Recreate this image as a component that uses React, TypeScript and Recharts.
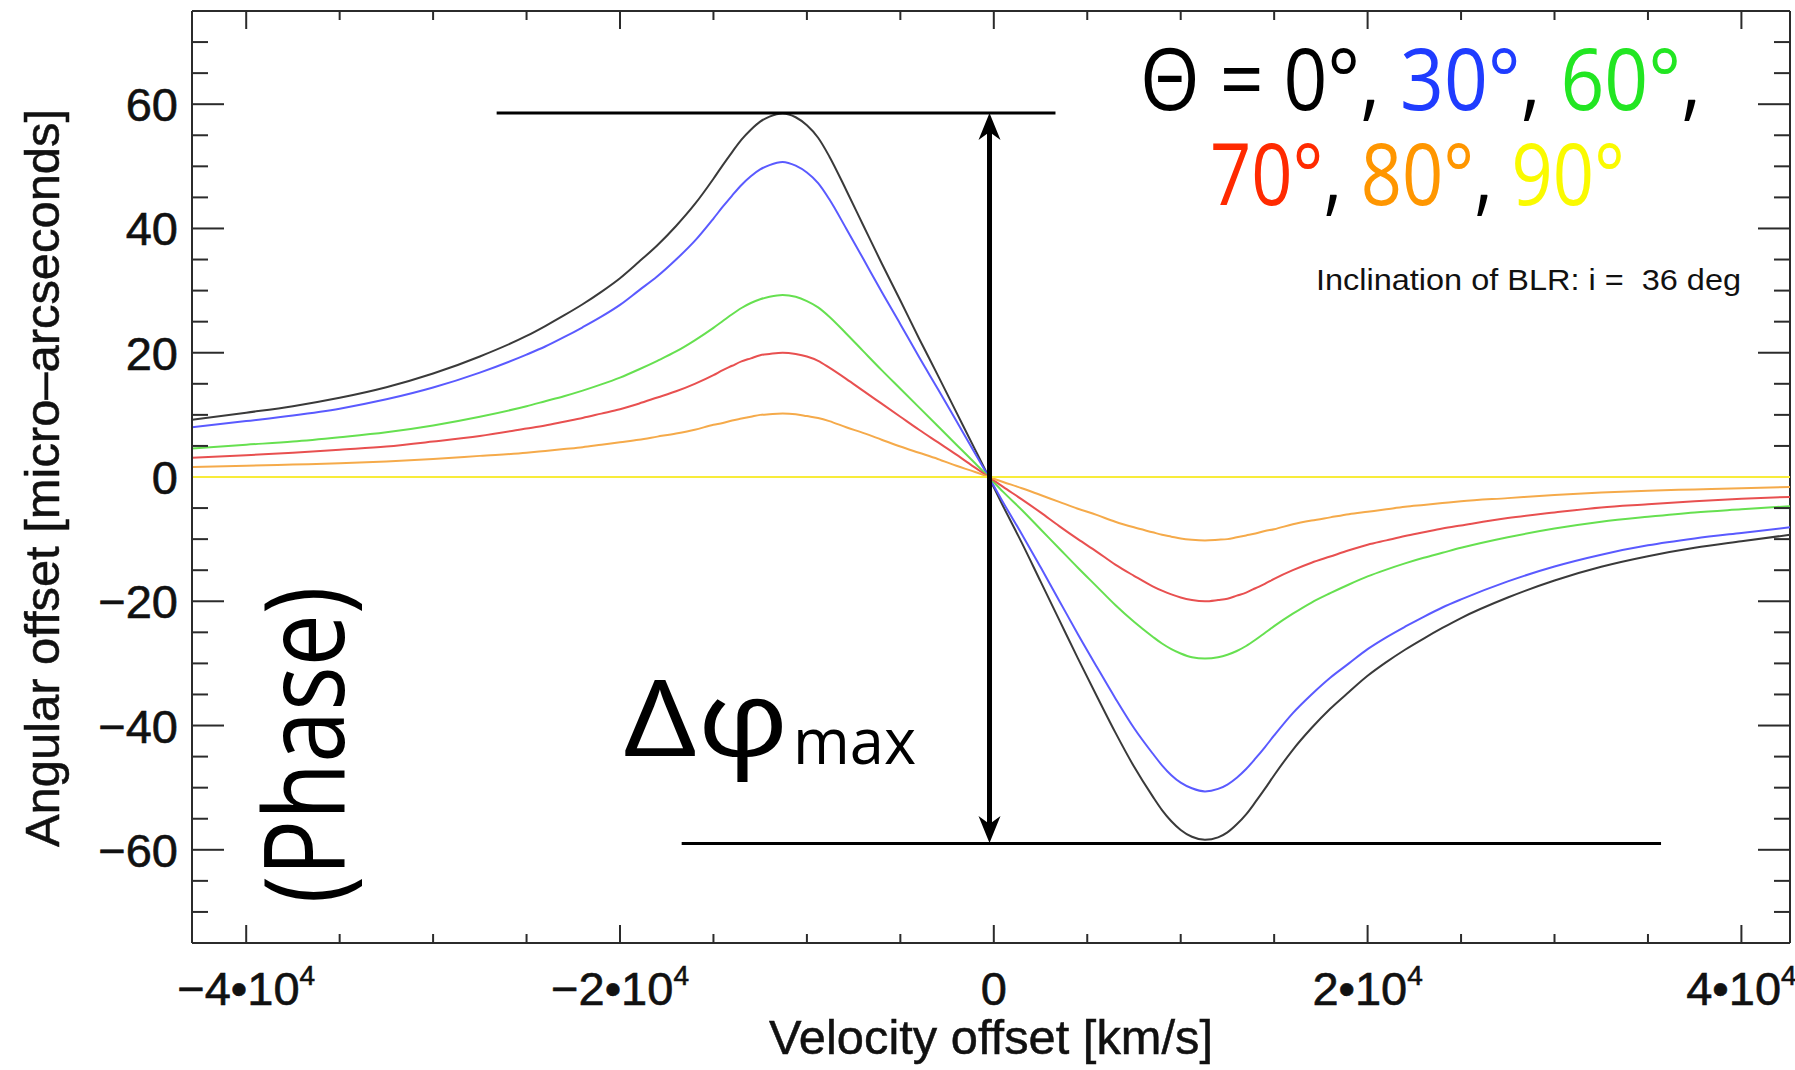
import { Line, LineChart, ReferenceLine, XAxis, YAxis } from "recharts";

// velocity offset [km/s]
const velocity = [
  -42900, -40000, -37500, -35000, -32500, -30000, -27500, -25000, -24000, -23000, -22000, -21000, -20000, -19000,
  -18000, -17000, -16000, -15000, -14500, -14000, -13500, -13000, -12500, -12000, -11300, -10600, -10000, -9400, -8800,
  -7900, -7000, -6000, -5000, -4000, -3000, -2000, -1000, -270, 500, 1500, 2500, 3500, 4500, 5500, 6500, 7500, 8500,
  9000, 9500, 10000, 10600, 11300, 12000, 12500, 13000, 13500, 14000, 14500, 15000, 16000, 17000, 18000, 19000, 20000,
  21000, 22000, 23000, 24000, 25000, 27500, 30000, 32500, 35000, 37500, 40000, 42600,
];

// angular offset [micro-arcseconds], one list per Theta
const theta0 = [
  9.2, 10.35, 11.4, 12.75, 14.45, 16.65, 19.4, 22.7, 24.3, 26.0, 27.8, 29.8, 32.0, 34.6, 37.3, 40.4, 43.9, 48.0, 50.2,
  52.3, 54.3, 55.9, 57.2, 58.0, 58.5, 57.9, 56.6, 54.6, 51.6, 46.2, 40.6, 34.4, 28.4, 22.3, 16.4, 10.4, 4.4, 0,
  -4.7, -10.6, -16.8, -23.0, -29.2, -35.2, -41.1, -46.6, -51.4, -53.6, -55.4, -56.8, -57.9, -58.4, -58.0, -57.2, -55.9,
  -54.3, -52.3, -50.2, -48.0, -43.9, -40.4, -37.3, -34.6, -32.0, -29.8, -27.8, -26.0, -24.3, -22.7, -19.4, -16.65,
  -14.45, -12.75, -11.4, -10.35, -9.3,
];
const theta30 = [
  8.0, 9.0, 9.9, 11.0, 12.5, 14.4, 16.8, 19.7, 21.0, 22.5, 24.1, 25.8, 27.7, 30.0, 32.3, 35.0, 38.0, 41.6, 43.5, 45.3,
  47.0, 48.4, 49.5, 50.2, 50.7, 50.1, 49.0, 47.3, 44.7, 40.0, 35.2, 29.8, 24.6, 19.3, 14.2, 9.0, 3.8, 0,
  -4.1, -9.2, -14.5, -19.9, -25.3, -30.5, -35.6, -40.4, -44.5, -46.4, -48.0, -49.2, -50.1, -50.6, -50.2, -49.5, -48.4,
  -47.0, -45.3, -43.5, -41.6, -38.0, -35.0, -32.3, -30.0, -27.7, -25.8, -24.1, -22.5, -21.0, -19.7, -16.8, -14.4,
  -12.5, -11.0, -9.9, -9.0, -8.1,
];
const theta60 = [
  4.6, 5.2, 5.7, 6.4, 7.2, 8.3, 9.7, 11.4, 12.2, 13.0, 13.9, 14.9, 16.0, 17.3, 18.7, 20.2, 22.0, 24.0, 25.1, 26.2,
  27.2, 28.0, 28.6, 29.0, 29.3, 29.0, 28.3, 27.3, 25.8, 23.1, 20.3, 17.2, 14.2, 11.2, 8.2, 5.2, 2.2, 0,
  -2.4, -5.3, -8.4, -11.5, -14.6, -17.6, -20.6, -23.3, -25.7, -26.8, -27.7, -28.4, -29.0, -29.2, -29.0, -28.6, -28.0,
  -27.2, -26.2, -25.1, -24.0, -22.0, -20.2, -18.7, -17.3, -16.0, -14.9, -13.9, -13.0, -12.2, -11.4, -9.7, -8.3, -7.2,
  -6.4, -5.7, -5.2, -4.7,
];
const theta70 = [
  3.1, 3.5, 3.9, 4.4, 4.9, 5.7, 6.6, 7.8, 8.3, 8.9, 9.5, 10.2, 10.9, 11.8, 12.8, 13.8, 15.0, 16.4, 17.2, 17.9, 18.6,
  19.1, 19.6, 19.8, 20.0, 19.8, 19.4, 18.7, 17.6, 15.8, 13.9, 11.8, 9.7, 7.6, 5.6, 3.6, 1.5, 0,
  -1.6, -3.6, -5.7, -7.9, -10.0, -12.0, -14.1, -15.9, -17.6, -18.3, -18.9, -19.4, -19.8, -20.0, -19.8, -19.6, -19.1,
  -18.6, -17.9, -17.2, -16.4, -15.0, -13.8, -12.8, -11.8, -10.9, -10.2, -9.5, -8.9, -8.3, -7.8, -6.6, -5.7, -4.9,
  -4.4, -3.9, -3.5, -3.2,
];
const theta80 = [
  1.6, 1.8, 2.0, 2.2, 2.5, 2.9, 3.4, 3.9, 4.2, 4.5, 4.8, 5.2, 5.6, 6.0, 6.5, 7.0, 7.6, 8.4, 8.7, 9.1, 9.4, 9.7, 10.0,
  10.1, 10.2, 10.1, 9.8, 9.5, 9.0, 8.0, 7.1, 6.0, 4.9, 3.9, 2.9, 1.8, 0.8, 0,
  -0.8, -1.8, -2.9, -4.0, -5.1, -6.1, -7.2, -8.1, -8.9, -9.3, -9.6, -9.9, -10.1, -10.2, -10.1, -10.0, -9.7, -9.4,
  -9.1, -8.7, -8.4, -7.6, -7.0, -6.5, -6.0, -5.6, -5.2, -4.8, -4.5, -4.2, -3.9, -3.4, -2.9, -2.5, -2.2, -2.0, -1.8,
  -1.6,
];
const theta90 = [
  0, 0, 0, 0, 0, 0, 0, 0, 0, 0, 0, 0, 0, 0, 0, 0, 0, 0, 0, 0, 0, 0, 0, 0, 0, 0, 0, 0, 0, 0, 0, 0, 0, 0, 0, 0, 0, 0,
  0, 0, 0, 0, 0, 0, 0, 0, 0, 0, 0, 0, 0, 0, 0, 0, 0, 0, 0, 0, 0, 0, 0, 0, 0, 0, 0, 0, 0, 0, 0, 0, 0, 0, 0, 0, 0, 0,
];

const velocityDomain = [-42900, 42600];
const offsetDomain = [-75, 75];
const velocityTicks = [
  -40000, -35000, -30000, -25000, -20000, -15000, -10000, -5000, 0, 5000, 10000, 15000, 20000, 25000, 30000, 35000,
  40000,
];
const offsetTicks = [
  -70, -65, -60, -55, -50, -45, -40, -35, -30, -25, -20, -15, -10, -5, 0, 5, 10, 15, 20, 25, 30, 35, 40, 45, 50, 55,
  60, 65, 70,
];

// Delta-phi annotation: [velocity, offset] end points
const peakBar = [[-26600, 58.6], [3300, 58.6]];
const troughBar = [[-16700, -59.0], [35700, -59.0]];
const phiArrow = [[-230, 58.6], [-230, -58.9]];

const chartData = velocity.map((v, i) => ({
  v,
  t0: theta0[i],
  t30: theta30[i],
  t60: theta60[i],
  t70: theta70[i],
  t80: theta80[i],
  t90: theta90[i],
}));

const W = 1795;
const H = 1070;
const PLOT_TOP = 11;
const PLOT_RIGHT = 1790;
const AXIS = "#2b2b2b";
const INK = "#111";
const SANS = "'Liberation Sans', Arial, Helvetica, sans-serif";
const HUMANIST = "'Open Sans', 'Noto Sans', sans-serif";

function VelocityTick({ x, y, payload }: any) {
  const v = payload.value as number;
  const major = v % 20000 === 0;
  const len = major ? 18 : 9;
  return (
    <g>
      <line x1={x} y1={y} x2={x} y2={y - len} stroke={AXIS} strokeWidth={2} />
      <line x1={x} y1={PLOT_TOP} x2={x} y2={PLOT_TOP + len} stroke={AXIS} strokeWidth={2} />
      {major && (
        <text x={x} y={y + 62} textAnchor="middle" fontFamily={SANS} fontSize={47} fill={INK} stroke={INK} strokeWidth={0.6}>
          {v === 0 ? (
            "0"
          ) : (
            <>
              <tspan>{`${v < 0 ? "\u2212" : ""}${Math.abs(v) / 10000}\u202210`}</tspan>
              <tspan dy={-20} fontSize={28}>
                4
              </tspan>
            </>
          )}
        </text>
      )}
    </g>
  );
}

function OffsetTick({ x, y, payload }: any) {
  const v = payload.value as number;
  const major = v % 20 === 0;
  const len = major ? 32 : 16;
  // the flat Theta = 90 deg curve runs over the zero ticks in the original plot
  const showMarks = v !== 0;
  return (
    <g>
      {showMarks && <line x1={x} y1={y} x2={x + len} y2={y} stroke={AXIS} strokeWidth={2} />}
      {showMarks && <line x1={PLOT_RIGHT} y1={y} x2={PLOT_RIGHT - len} y2={y} stroke={AXIS} strokeWidth={2} />}
      {major && (
        <text x={x - 14} y={y + 17} textAnchor="end" fontFamily={SANS} fontSize={47} fill={INK} stroke={INK} strokeWidth={0.6}>
          {v < 0 ? `\u2212${-v}` : `${v}`}
        </text>
      )}
    </g>
  );
}

function DoubleArrow({ x1, y1, x2, y2 }: any) {
  const top = Math.min(y1, y2);
  const bottom = Math.max(y1, y2);
  const x = (x1 + x2) / 2;
  return (
    <g>
      <line x1={x} y1={top + 18} x2={x} y2={bottom - 18} stroke="#000" strokeWidth={5} />
      <path d={`M${x},${top} L${x + 11},${top + 27} L${x},${top + 19} L${x - 11},${top + 27} Z`} fill="#000" />
      <path
        d={`M${x},${bottom} L${x + 11},${bottom - 27} L${x},${bottom - 19} L${x - 11},${bottom - 27} Z`}
        fill="#000"
      />
    </g>
  );
}

const toSegment = (pts: number[][]) => pts.map(([x, y]) => ({ x, y }));

export default function App() {
  return (
    <div style={{ position: "absolute", left: 0, top: 0, width: W, height: H, background: "#fff" }}>
      <LineChart width={W} height={H} data={chartData} margin={{ top: PLOT_TOP, right: W - PLOT_RIGHT, bottom: 0, left: 0 }}>
        <XAxis
          dataKey="v"
          type="number"
          domain={velocityDomain}
          ticks={velocityTicks}
          interval={0}
          allowDataOverflow
          height={127}
          tickSize={0}
          tickMargin={0}
          tickLine={false}
          axisLine={{ stroke: AXIS, strokeWidth: 2 }}
          tick={(props: any) => <VelocityTick {...props} />}
        />
        <YAxis
          type="number"
          domain={offsetDomain}
          ticks={offsetTicks}
          interval={0}
          allowDataOverflow
          width={192}
          tickSize={0}
          tickMargin={0}
          tickLine={false}
          axisLine={{ stroke: AXIS, strokeWidth: 2 }}
          tick={(props: any) => <OffsetTick {...props} />}
        />
        <ReferenceLine y={offsetDomain[1]} stroke={AXIS} strokeWidth={2} />
        <ReferenceLine x={velocityDomain[1]} stroke={AXIS} strokeWidth={2} />
        <Line dataKey="t0" type="monotone" stroke="#3a3a3a" strokeWidth={2} dot={false} activeDot={false} isAnimationActive={false} />
        <Line dataKey="t30" type="monotone" stroke="#5a5aff" strokeWidth={2} dot={false} activeDot={false} isAnimationActive={false} />
        <Line dataKey="t60" type="monotone" stroke="#66e050" strokeWidth={2} dot={false} activeDot={false} isAnimationActive={false} />
        <Line dataKey="t70" type="monotone" stroke="#e85050" strokeWidth={2} dot={false} activeDot={false} isAnimationActive={false} />
        <Line dataKey="t80" type="monotone" stroke="#f5aa4a" strokeWidth={2} dot={false} activeDot={false} isAnimationActive={false} />
        <Line dataKey="t90" type="linear" stroke="#f8ec3a" strokeWidth={2} dot={false} activeDot={false} isAnimationActive={false} />
        <ReferenceLine segment={toSegment(peakBar)} stroke="#000" strokeWidth={3} />
        <ReferenceLine segment={toSegment(troughBar)} stroke="#000" strokeWidth={3} />
        <ReferenceLine segment={toSegment(phiArrow)} shape={(p: any) => <DoubleArrow {...p} />} />
      </LineChart>

      <svg width={W} height={H} style={{ position: "absolute", left: 0, top: 0, pointerEvents: "none" }}>
        <text
          transform="translate(59,478) rotate(-90)"
          textAnchor="middle"
          fontFamily={SANS}
          fontSize={48}
          textLength={738}
          lengthAdjust="spacingAndGlyphs"
          fill={INK}
          stroke={INK}
          strokeWidth={0.5}
        >
          Angular offset [micro–arcseconds]
        </text>
        <text
          x={991}
          y={1054}
          textAnchor="middle"
          fontFamily={SANS}
          fontSize={48}
          textLength={444}
          lengthAdjust="spacingAndGlyphs"
          fill={INK}
          stroke={INK}
          strokeWidth={0.5}
        >
          Velocity offset [km/s]
        </text>

        <text
          transform="translate(344,745) rotate(-90)"
          textAnchor="middle"
          fontFamily={HUMANIST}
          fontSize={112}
          textLength={317}
          lengthAdjust="spacingAndGlyphs"
          fill="#000"
        >
          (Phase)
        </text>
        <text x={623} y={756} fontFamily={HUMANIST} fontSize={106} textLength={166} lengthAdjust="spacingAndGlyphs" fill="#000">
          Δφ
        </text>
        <text x={793} y={764} fontFamily={HUMANIST} fontSize={64} textLength={123} lengthAdjust="spacingAndGlyphs" fill="#000">
          max
        </text>

        <text x={1140} y={110} fontFamily={HUMANIST} fontSize={86} textLength={561} lengthAdjust="spacingAndGlyphs" style={{ whiteSpace: "pre" }}>
          <tspan fill="#000">Θ = 0°, </tspan>
          <tspan fill="#1f3cff">30°</tspan>
          <tspan fill="#000">, </tspan>
          <tspan fill="#22e622">60°</tspan>
          <tspan fill="#000">,</tspan>
        </text>
        <text x={1210} y={205} fontFamily={HUMANIST} fontSize={86} textLength={415} lengthAdjust="spacingAndGlyphs" style={{ whiteSpace: "pre" }}>
          <tspan fill="#ff2a00">70°</tspan>
          <tspan fill="#000">, </tspan>
          <tspan fill="#ff9600">80°</tspan>
          <tspan fill="#000">, </tspan>
          <tspan fill="#fafa00">90°</tspan>
        </text>
        <text
          x={1316}
          y={290}
          fontFamily={SANS}
          fontSize={29}
          textLength={425}
          lengthAdjust="spacingAndGlyphs"
          fill={INK}
          style={{ whiteSpace: "pre" }}
        >
          {"Inclination of BLR: i =  36 deg"}
        </text>
      </svg>
    </div>
  );
}
